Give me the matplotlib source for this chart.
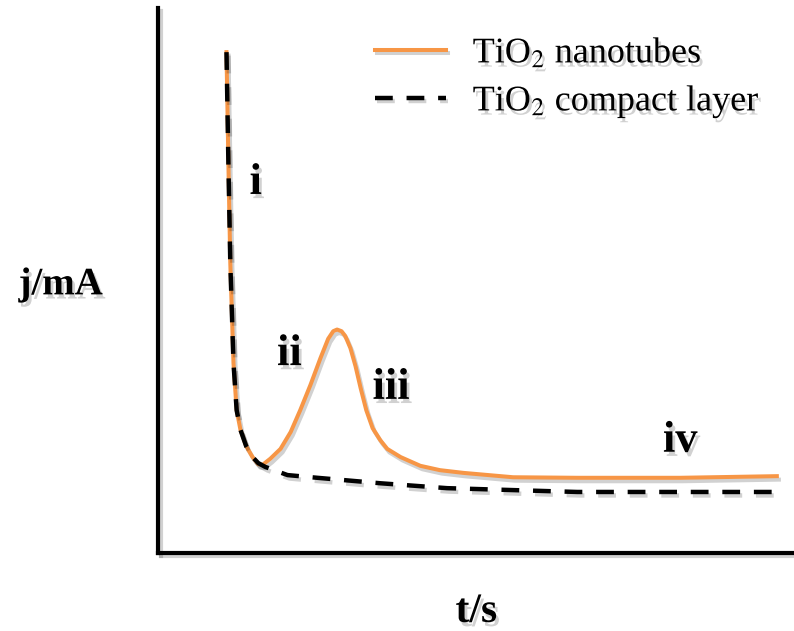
import numpy as np
import matplotlib
matplotlib.use("Agg")
import matplotlib.pyplot as plt
import matplotlib.patheffects as pe

#curve values (arbitrary units, axes run 0..100)
t_tubes = [10.7, 11.0, 11.3, 11.8, 12.3, 12.9, 13.8, 14.8, 15.7, 16.4, 17.6, 19.2, 20.8,
           22.3, 23.9, 25.5, 26.7, 27.5, 28.1, 28.8, 29.4, 30.2, 31.0, 31.8, 32.7, 33.7,
           34.9, 36.0, 38.1, 41.2, 44.3, 48.0, 55.8, 65.9, 82.1, 97.3]
j_tubes = [91.9, 71.6, 53.2, 34.9, 26.2, 22.6, 19.6, 17.6, 16.3, 16.2, 17.3, 19.1, 22.2,
           26.2, 30.8, 35.8, 39.3, 40.7, 41.0, 40.7, 39.8, 37.6, 34.3, 30.3, 26.2, 22.9,
           20.7, 19.1, 17.6, 16.0, 15.2, 14.7, 13.9, 13.8, 13.8, 14.1]

t_compact = [10.7, 11.0, 11.3, 11.8, 12.3, 12.9, 13.8, 14.8, 15.7, 16.8, 20.3, 25.0,
             34.9, 45.4, 65.9, 98.4]
j_compact = [91.9, 71.6, 53.2, 34.9, 26.2, 22.6, 19.6, 17.6, 16.5, 15.8, 14.3, 13.8,
             12.8, 11.9, 11.2, 11.2]

#region labels and where they sit
region_labels = ["i", "ii", "iii", "iv"]
label_t = [15.3, 20.6, 36.6, 82.1]
label_j = [67.9, 36.5, 30.3, 20.6]

series_names = ["TiO$_2$ nanotubes", "TiO$_2$ compact layer"]

plt.rcParams["font.family"] = ["Liberation Serif", "DejaVu Serif"]
plt.rcParams["mathtext.fontset"] = "stix"

fig = plt.figure(figsize=(7.94, 6.31), dpi=100)
ax = fig.add_axes([0.1996, 0.1236, 0.8004, 0.8637])
ax.set_xlim(0, 100)
ax.set_ylim(0, 100)

line_shadow = [pe.SimpleLineShadow(offset=(1.5, -2.5), shadow_color="black", alpha=0.18), pe.Normal()]
text_shadow = [pe.withSimplePatchShadow(offset=(2, -3), shadow_rgbFace="black", alpha=0.18)]

ax.plot(t_tubes, j_tubes, color="#F79646", lw=2.9, solid_joinstyle="round",
        label=series_names[0], path_effects=line_shadow)
ax.plot(t_compact, j_compact, color="black", lw=3.2, linestyle=(0, (4.0, 3.1)),
        label=series_names[1], path_effects=line_shadow)

for lab, x, y in zip(region_labels, label_t, label_j):
    ax.text(x, y, lab, fontsize=32, fontweight="bold", ha="center", va="center",
            path_effects=text_shadow)

#axis titles placed like the original (outside the frame, no ticks)
ax.text(-15.4, 49.2, "j/mA", fontsize=28, fontweight="bold", ha="center", va="center",
        path_effects=text_shadow)
ax.text(50.0, -10.8, "t/s", fontsize=30, fontweight="bold", ha="center", va="center",
        path_effects=text_shadow)

for side in ["top", "right"]:
    ax.spines[side].set_visible(False)
for side in ["left", "bottom"]:
    ax.spines[side].set_linewidth(3.0)
    ax.spines[side].set_path_effects(line_shadow)
ax.set_xticks([])
ax.set_yticks([])

leg = ax.legend(loc="upper left", bbox_to_anchor=(0.341, 0.949), frameon=False,
                fontsize=26, handlelength=1.95, handletextpad=0.75, borderpad=0,
                borderaxespad=0, labelspacing=0.36)
for txt in leg.get_texts():
    txt.set_path_effects(text_shadow)

fig.savefig("out.png", dpi=100)
